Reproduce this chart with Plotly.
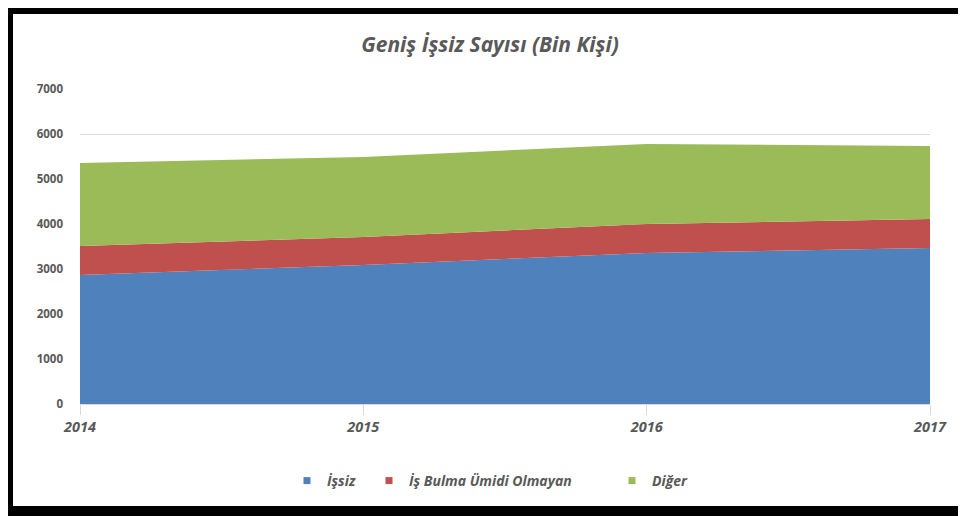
import plotly.graph_objects as go

years = [2014, 2015, 2016, 2017]
issiz = [2867, 3089, 3356, 3467]
umutsuz = [643, 622, 644, 644]
diger = [1846, 1778, 1778, 1622]
names = ["İşsiz", "İş Bulma Ümidi Olmayan", "Diğer"]
colors = ["#4F81BD", "#C0504D", "#9BBB59"]
y_ticks = [0, 1000, 2000, 3000, 4000, 5000, 6000, 7000]

OFF = 8  # page body margin
W, H = 966 - OFF, 516 - OFF
L, R, T, B = 80 - OFF, 930 - OFF, 89 - OFF, 404 - OFF

def px(x):
    return (x - OFF - L) / (R - L)

def py(y):
    return (B - (y - OFF)) / (B - T)

fig = go.Figure()
for vals, name, col in zip([issiz, umutsuz, diger], names, colors):
    fig.add_trace(go.Scatter(
        x=years, y=vals, name=name, mode="lines", stackgroup="one",
        line=dict(width=0, color=col), fillcolor=col, showlegend=False,
    ))

font_fam = "Open Sans"
legend_x = [287, 369, 612]  # page px of legend boxes
leg_names = ["legend", "legend2", "legend3"]
for name, col, lx, ln in zip(names, colors, legend_x, leg_names):
    fig.add_trace(go.Scatter(
        x=[None], y=[None], mode="markers", name=f"<b><i>{name}</i></b>",
        marker=dict(symbol="square", size=7, color=col), showlegend=True, legend=ln,
    ))

legend_common = dict(orientation="h", y=py(481), yanchor="middle", xanchor="left",
                     font=dict(family=font_fam, size=14, color="#595959"),
                     itemwidth=30, bgcolor="rgba(0,0,0,0)")

fig.update_layout(
    width=W, height=H,
    margin=dict(l=L, r=W - R, t=T, b=H - B),
    paper_bgcolor="white", plot_bgcolor="white",
    title=dict(text="<b><i>Geniş İşsiz Sayısı (Bin Kişi)</i></b>", x=(490 - OFF) / W, xanchor="center",
               y=1 - (45 - OFF) / H, yanchor="middle",
               font=dict(family=font_fam, size=21, color="#595959")),
    xaxis=dict(range=[2014, 2017], tickvals=years,
               ticktext=[f"<b><i>{y}</i></b>" for y in years],
               tickfont=dict(family=font_fam, size=14.5, color="#595959"),
               showgrid=False, zeroline=False, showline=True, linecolor="#d9d9d9",
               ticks="outside", ticklen=10, tickcolor="#d9d9d9"),
    yaxis=dict(range=[0, 7000], tickvals=y_ticks,
               ticktext=[f"<b>{v}</b>" for v in y_ticks],
               tickfont=dict(family=font_fam, size=11.5, color="#595959"),
               showgrid=True, gridcolor="#d9d9d9", zeroline=False,
               ticks="", ticklabelstandoff=16),
    showlegend=True,
    legend=dict(x=px(legend_x[0]), **legend_common),
    legend2=dict(x=px(legend_x[1]), **legend_common),
    legend3=dict(x=px(legend_x[2]), **legend_common),
)

# black frame (page px)
frame = [
    (4, 6, 13, 516),    # left
    (4, 6, 966, 14),    # top
    (4, 506, 966, 516), # bottom
    (963, 6, 966, 516), # right
]
for x0, y0, x1, y1 in frame:
    fig.add_shape(type="rect", xref="paper", yref="paper",
                  x0=px(x0), x1=px(x1), y0=py(y0), y1=py(y1),
                  fillcolor="black", line=dict(width=0), layer="above")

fig.write_html("out.html")
